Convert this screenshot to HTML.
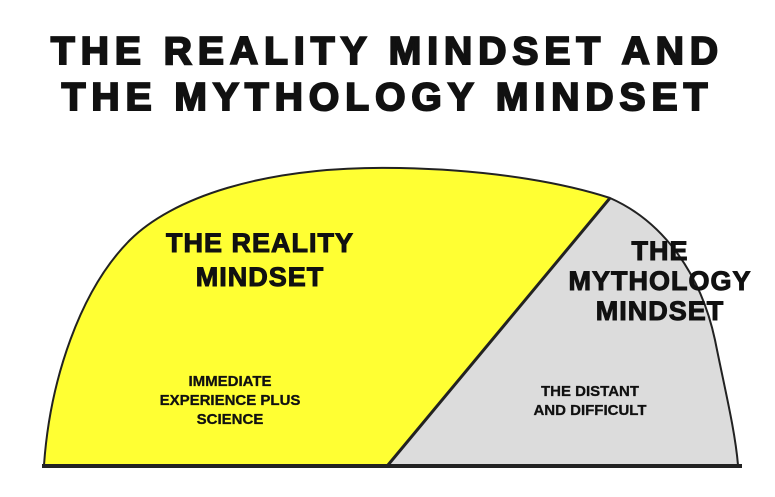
<!DOCTYPE html>
<html><head><meta charset="utf-8"><style>
body{margin:0;background:#fff;width:775px;height:497px;overflow:hidden;position:relative;font-family:"Liberation Sans",sans-serif}
.t{position:absolute;font-weight:bold;color:#111;text-align:center;white-space:nowrap}
.h{font-size:39px;letter-spacing:6px;-webkit-text-stroke:2px #111}
.m{font-size:27px;letter-spacing:1px;-webkit-text-stroke:1px #111;line-height:34px}
.s{font-size:15px;line-height:19px;-webkit-text-stroke:0.3px #111}
</style></head><body>
<svg width="775" height="497" style="position:absolute;left:0;top:0">
<path d="M44,465 C50,380 80,290 130,240 C170,200 260,165 400,168 C500,170 570,185 610,198 L388,465 Z" fill="#ffff33"/>
<path d="M610,198 C660,220 700,270 715,340 C725,390 735,430 738,465 L388,465 Z" fill="#dcdcdc"/>
<path d="M44,465 C50,380 80,290 130,240 C170,200 260,165 400,168 C500,170 570,185 610,198 C660,220 700,270 715,340 C725,390 735,430 738,465" fill="none" stroke="#222" stroke-width="2"/>
<line x1="610" y1="198" x2="388" y2="465" stroke="#222" stroke-width="3"/>
<line x1="42" y1="466" x2="742" y2="466" stroke="#222" stroke-width="4"/>
</svg>
<div class="t h" style="left:0;width:775px;top:30px">THE REALITY MINDSET AND</div>
<div class="t h" style="left:0;width:775px;top:76px">THE MYTHOLOGY MINDSET</div>
<div class="t m" style="left:140px;width:240px;top:226px">THE REALITY<br>MINDSET</div>
<div class="t m" style="left:560px;width:200px;top:236px;line-height:30px">THE<br>MYTHOLOGY<br>MINDSET</div>
<div class="t s" style="left:140px;width:180px;top:372px">IMMEDIATE<br>EXPERIENCE PLUS<br>SCIENCE</div>
<div class="t s" style="left:520px;width:140px;top:382px">THE DISTANT<br>AND DIFFICULT</div>
</body></html>
